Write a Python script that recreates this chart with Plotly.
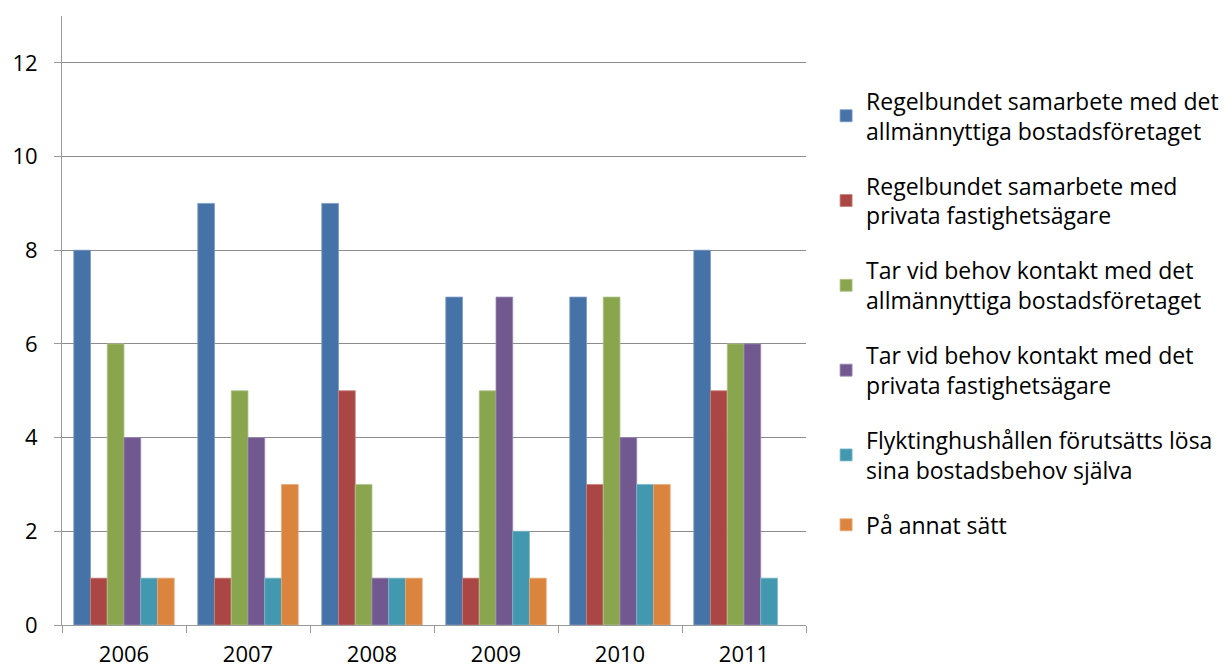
import plotly.graph_objects as go

years = ["2006", "2007", "2008", "2009", "2010", "2011"]
series_names = [
    "Regelbundet samarbete med det<br>allmännyttiga bostadsföretaget",
    "Regelbundet samarbete med<br>privata fastighetsägare",
    "Tar vid behov kontakt med det<br>allmännyttiga bostadsföretaget",
    "Tar vid behov kontakt med det<br>privata fastighetsägare",
    "Flyktinghushållen förutsätts lösa<br>sina bostadsbehov själva",
    "På annat sätt",
]
regelbundet_allmannyttiga = [8, 9, 9, 7, 7, 8]
regelbundet_privata = [1, 1, 5, 1, 3, 5]
behov_allmannyttiga = [6, 5, 3, 5, 7, 6]
behov_privata = [4, 4, 1, 7, 4, 6]
sjalva = [1, 1, 1, 2, 3, 1]
annat = [1, 3, 1, 1, 3, 0]
yticks = [0, 2, 4, 6, 8, 10, 12]

values = [regelbundet_allmannyttiga, regelbundet_privata, behov_allmannyttiga,
          behov_privata, sjalva, annat]
colors = ["#4572A7", "#AA4643", "#89A54E", "#71588F", "#4198AF", "#DB843D"]
edges = ["#7F9CC6", "#C8807E", "#B0C68A", "#9C8AB4", "#7FBACB", "#E8AA78"]

font_family = "'Open Sans', Lato, sans-serif"

fig = go.Figure()
for i, (name, vals) in enumerate(zip(series_names, values)):
    fig.add_trace(go.Bar(
        x=years, y=vals, name=name,
        marker=dict(color=colors[i],
                    line=dict(color=edges[i], width=[0.8 if v else 0 for v in vals])),
        legendgroup=f"g{i}",
    ))

fig.update_layout(
    width=1227, height=669,
    margin=dict(l=62, r=421, t=16, b=44, autoexpand=False),
    paper_bgcolor="white", plot_bgcolor="white",
    barmode="group", bargap=0.19, bargroupgap=0,
    font=dict(family=font_family, size=22, color="#000000"),
    showlegend=True,
    legend=dict(
        x=1.027, xanchor="left", y=0.896, yanchor="top",
        font=dict(size=23, family=font_family, color="#000000"),
        tracegroupgap=22,
        itemwidth=30,
        bgcolor="rgba(0,0,0,0)",
    ),
    xaxis=dict(
        showgrid=False, showline=True, linecolor="#9A9A9A", linewidth=1,
        ticks="outside", tickson="boundaries", ticklen=7, tickcolor="#9A9A9A",
        tickfont=dict(size=22), ticklabelstandoff=10, automargin=False,
    ),
    yaxis=dict(
        range=[0, 13], tickvals=yticks, showgrid=True, gridcolor="#8C8C8C",
        gridwidth=1, showline=True, linecolor="#9A9A9A", linewidth=1,
        ticks="outside", ticklen=7, tickcolor="#9A9A9A",
        tickfont=dict(size=22), ticklabelstandoff=12, zeroline=False,
        automargin=False,
    ),
)

fig.write_html("out.html")
